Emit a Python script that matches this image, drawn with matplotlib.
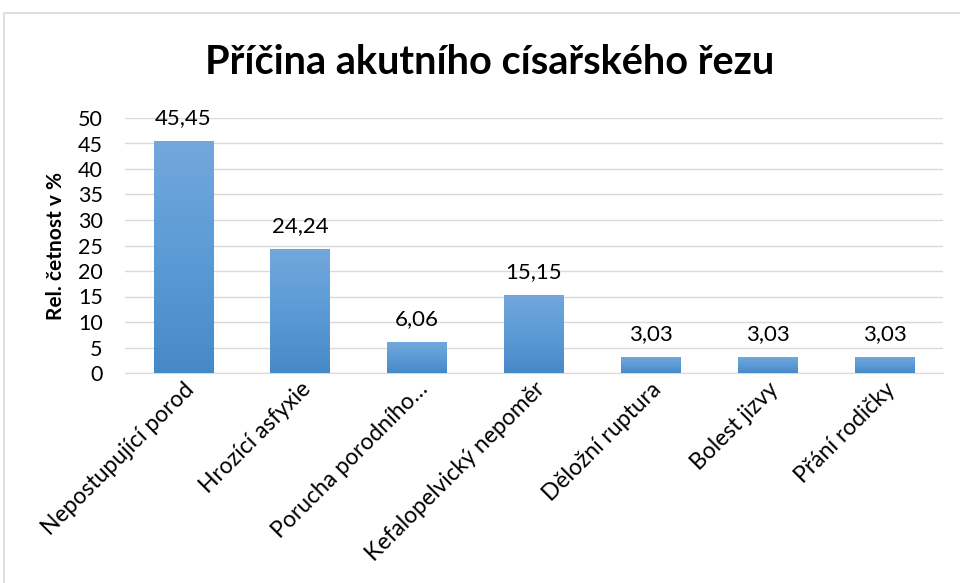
import numpy as np
import matplotlib.pyplot as plt
from matplotlib.patches import Rectangle
from matplotlib.colors import LinearSegmentedColormap

# data
kategorie = ["Nepostupující porod", "Hrozící asfyxie", "Porucha porodního…",
             "Kefalopelvický nepoměr", "Děložní ruptura", "Bolest jizvy", "Přání rodičky"]
hodnoty = [45.45, 24.24, 6.06, 15.15, 3.03, 3.03, 3.03]
popisky = ["45,45", "24,24", "6,06", "15,15", "3,03", "3,03", "3,03"]

plt.rcParams['font.family'] = ['Lato', 'DejaVu Sans']

fig = plt.figure(figsize=(9.6, 5.83), dpi=100)
ax = fig.add_axes([125/960, 1 - 373/583, 818/960, 255/583])

# ramecek grafu
fig.patches.append(Rectangle((4/960, -0.1), 1.2, 1 - 13/583 + 0.1, transform=fig.transFigure,
                             fill=False, edgecolor='#d9d9d9', linewidth=1.2))

x = np.arange(len(kategorie))
sirka = 0.51
gradient = LinearSegmentedColormap.from_list('modra', ['#4789c8', '#5b9bd5', '#72a8dc'])
grad = np.linspace(0, 1, 256).reshape(-1, 1)

bars = ax.bar(x, hodnoty, width=sirka, color='none', zorder=3)
for b in bars:
    x0, y0 = b.get_x(), b.get_y()
    w, h = b.get_width(), b.get_height()
    ax.imshow(grad, extent=[x0, x0 + w, y0, y0 + h], origin='lower',
              cmap=gradient, aspect='auto', zorder=3)

for xi, v, t in zip(x, hodnoty, popisky):
    ax.text(xi, v + 2.6, t, ha='center', va='bottom', fontsize=16, color='#000000')

ax.set_xlim(-0.5, len(kategorie) - 0.5)
ax.set_ylim(0, 50)
ax.set_yticks(range(0, 51, 5))
ax.tick_params(axis='y', labelsize=15.5, length=0, pad=16)
ax.tick_params(axis='x', length=0, pad=4)
ax.set_xticks(x)
ax.set_xticklabels(kategorie, rotation=45, ha='right', rotation_mode='anchor', fontsize=16.5)
ax.grid(axis='y', color='#d9d9d9', linewidth=1, zorder=0)
ax.set_axisbelow(True)
for s in ['top', 'right', 'left']:
    ax.spines[s].set_visible(False)
ax.spines['bottom'].set_color('#d9d9d9')

ax.set_ylabel('Rel. četnost v %', fontsize=15, fontweight='bold')
ax.yaxis.set_label_coords((66 - 125) / 818, 0.5)
fig.text(490/960, 1 - 62/583, 'Příčina akutního císařského řezu', ha='center', va='center',
         fontsize=28.5, fontweight='bold')

fig.savefig('out.png', dpi=100)
